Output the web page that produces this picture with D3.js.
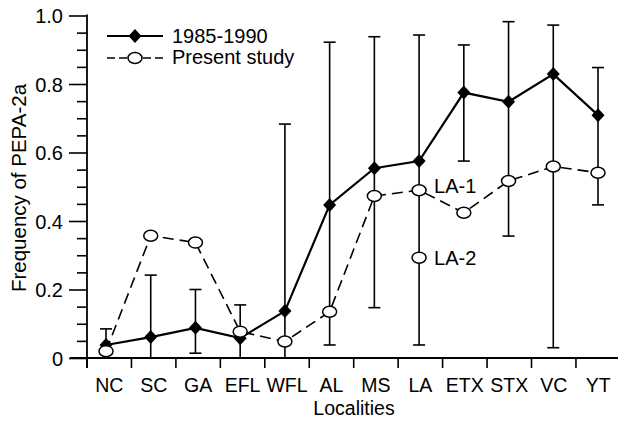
<!DOCTYPE html>
<html>
<head>
<meta charset="utf-8">
<script src="https://cdn.jsdelivr.net/npm/d3@7"></script>
<style>
	body { margin: 0; background: #fff; }
	svg { display: block; }
	text { font-family: Arial, "Liberation Sans", Helvetica, sans-serif; fill: #000; }
</style>
</head>
<body>
<div id="chart"></div>
<script>
// data
var localities = ["NC", "SC", "GA", "EFL", "WFL", "AL", "MS", "LA", "ETX", "STX", "VC", "YT"];
var freq1985 = [0.038, 0.061, 0.088, 0.058, 0.137, 0.447, 0.554, 0.575, 0.775, 0.748, 0.829, 0.709];
var errLow1985 = [0, 0, 0.014, 0, 0, 0.038, 0.147, 0.038, 0.575, 0.356, 0.030, 0.447];
var errHigh1985 = [0.085, 0.242, 0.200, 0.155, 0.683, 0.922, 0.938, 0.943, 0.914, 0.982, 0.972, 0.848];
var freqPresent = [0.020, 0.357, 0.337, 0.077, 0.048, 0.135, 0.473, 0.490, 0.424, 0.517, 0.559, 0.541];
var extraPoints = [{ loc: "LA", value: 0.293, label: "LA-2" }];
var pointLabels = [{ loc: "LA", value: 0.490, label: "LA-1" }];
var seriesNames = ["1985-1990", "Present study"];
var yMajorTicks = [0, 0.2, 0.4, 0.6, 0.8, 1.0];

function Chart (targetDomElement) {
	var width = 618;
	var height = 423;
	var left = 87;
	var y0 = 358;
	var y1 = 15.5;
	var svg;
	var x, xBand, y;

	function constructor () {
		svg = d3.select(targetDomElement)
			.append("svg")
			.attr("width", width)
			.attr("height", height);

		xBand = d3.scaleBand().domain(localities).range([left, left + 12 * 44.45]);
		x = d3.scalePoint().domain(localities).range([106, 598]);
		y = d3.scaleLinear().domain([0, 1]).range([y0, y1]);

		drawAxes();
		drawSeries();
		drawLegend();
	}

	function drawAxes () {
		// y axis, major and minor ticks
		var minor = d3.range(0, 1.0001, 0.05).filter(function (v) {
			return Math.abs(v * 5 - Math.round(v * 5)) > 1e-6;
		});
		svg.append("g")
			.attr("transform", "translate(" + left + ",0)")
			.call(d3.axisLeft(y).tickValues(minor).tickSize(10).tickFormat(""))
			.call(function (g) { g.select(".domain").remove(); })
			.selectAll("line").attr("stroke-width", 1.6);

		var yAx = svg.append("g")
			.attr("transform", "translate(" + left + ",0)")
			.call(d3.axisLeft(y).tickValues(yMajorTicks).tickSize(18).tickPadding(6)
				.tickFormat(function (d) { return d === 0 ? "0" : d3.format(".1f")(d); }));
		yAx.select(".domain").remove();
		yAx.selectAll("line").attr("stroke-width", 1.6);
		yAx.selectAll("text").attr("font-size", 20).attr("font-family", null).attr("dy", "0.36em");

		svg.append("line")
			.attr("x1", left).attr("x2", left)
			.attr("y1", y(1) - 1).attr("y2", y0 + 10)
			.attr("stroke", "#000").attr("stroke-width", 1.8);

		// x axis
		svg.append("line")
			.attr("x1", left - 17).attr("x2", width)
			.attr("y1", y0).attr("y2", y0)
			.attr("stroke", "#000").attr("stroke-width", 1.8);

		svg.append("g").selectAll("line")
			.data(localities)
			.join("line")
			.attr("x1", function (d) { return xBand(d); })
			.attr("x2", function (d) { return xBand(d); })
			.attr("y1", y0).attr("y2", y0 + 10)
			.attr("stroke", "#000").attr("stroke-width", 1.6);

		svg.append("g").selectAll("text")
			.data(localities)
			.join("text")
			.attr("x", function (d) { return xBand(d) + xBand.bandwidth() / 2; })
			.attr("y", 392)
			.attr("text-anchor", "middle")
			.attr("font-size", 19.5)
			.text(function (d) { return d; });

		svg.append("text")
			.attr("x", 354).attr("y", 415)
			.attr("text-anchor", "middle")
			.attr("font-size", 19.5)
			.text("Localities");

		svg.append("text")
			.attr("transform", "translate(26,188) rotate(-90)")
			.attr("text-anchor", "middle")
			.attr("font-size", 20.5)
			.text("Frequency of PEPA-2a");
	}

	function diamond (sel) {
		return sel.append("path")
			.attr("d", "M0,-7L6.5,0L0,7L-6.5,0Z")
			.attr("fill", "#000");
	}

	function drawSeries () {
		// error bars for 1985-1990
		var bars = svg.append("g").selectAll("g")
			.data(localities)
			.join("g")
			.attr("stroke", "#000").attr("stroke-width", 1.6);
		bars.append("line")
			.attr("x1", function (d) { return x(d); })
			.attr("x2", function (d) { return x(d); })
			.attr("y1", function (d, i) { return y(errLow1985[i]); })
			.attr("y2", function (d, i) { return y(errHigh1985[i]); });
		bars.append("line")
			.attr("x1", function (d) { return x(d) - 6; })
			.attr("x2", function (d) { return x(d) + 6; })
			.attr("y1", function (d, i) { return y(errHigh1985[i]); })
			.attr("y2", function (d, i) { return y(errHigh1985[i]); });
		bars.append("line")
			.attr("x1", function (d) { return x(d) - 6; })
			.attr("x2", function (d) { return x(d) + 6; })
			.attr("y1", function (d, i) { return y(errLow1985[i]); })
			.attr("y2", function (d, i) { return y(errLow1985[i]); });

		var line = d3.line()
			.x(function (d) { return x(d.loc); })
			.y(function (d) { return y(d.v); });

		var present = localities.map(function (l, i) { return { loc: l, v: freqPresent[i] }; });
		var old = localities.map(function (l, i) { return { loc: l, v: freq1985[i] }; });

		svg.append("path")
			.datum(present)
			.attr("d", line)
			.attr("fill", "none")
			.attr("stroke", "#000").attr("stroke-width", 1.6)
			.attr("stroke-dasharray", "11,6");

		svg.append("path")
			.datum(old)
			.attr("d", line)
			.attr("fill", "none")
			.attr("stroke", "#000").attr("stroke-width", 2.2);

		svg.append("g").selectAll("g")
			.data(old)
			.join("g")
			.attr("transform", function (d) { return "translate(" + x(d.loc) + "," + y(d.v) + ")"; })
			.call(diamond);

		var circles = present.concat(extraPoints.map(function (p) { return { loc: p.loc, v: p.value }; }));
		svg.append("g").selectAll("ellipse")
			.data(circles)
			.join("ellipse")
			.attr("cx", function (d) { return x(d.loc); })
			.attr("cy", function (d) { return y(d.v); })
			.attr("rx", 7).attr("ry", 5.5)
			.attr("fill", "#fff")
			.attr("stroke", "#000").attr("stroke-width", 1.5);

		// LA-1 / LA-2 annotations
		svg.append("text")
			.attr("x", x("LA") + 15).attr("y", y(pointLabels[0].value) + 3)
			.attr("font-size", 20)
			.text(pointLabels[0].label);
		svg.append("text")
			.attr("x", x("LA") + 15).attr("y", y(extraPoints[0].value) + 7)
			.attr("font-size", 20)
			.text(extraPoints[0].label);
	}

	function drawLegend () {
		var g = svg.append("g");
		g.append("line")
			.attr("x1", 107).attr("x2", 163).attr("y1", 36).attr("y2", 36)
			.attr("stroke", "#000").attr("stroke-width", 2);
		g.append("g").attr("transform", "translate(135,36)").call(diamond);
		g.append("text").attr("x", 172).attr("y", 43).attr("font-size", 20).text(seriesNames[0]);

		g.append("line")
			.attr("x1", 107).attr("x2", 163).attr("y1", 58).attr("y2", 58)
			.attr("stroke", "#000").attr("stroke-width", 1.6)
			.attr("stroke-dasharray", "8,4");
		g.append("ellipse")
			.attr("cx", 135).attr("cy", 58).attr("rx", 7).attr("ry", 5.5)
			.attr("fill", "#fff").attr("stroke", "#000").attr("stroke-width", 1.5);
		g.append("text").attr("x", 172).attr("y", 64).attr("font-size", 20).text(seriesNames[1]);
	}

	constructor();
}

Chart(document.getElementById("chart"));
</script>
</body>
</html>
